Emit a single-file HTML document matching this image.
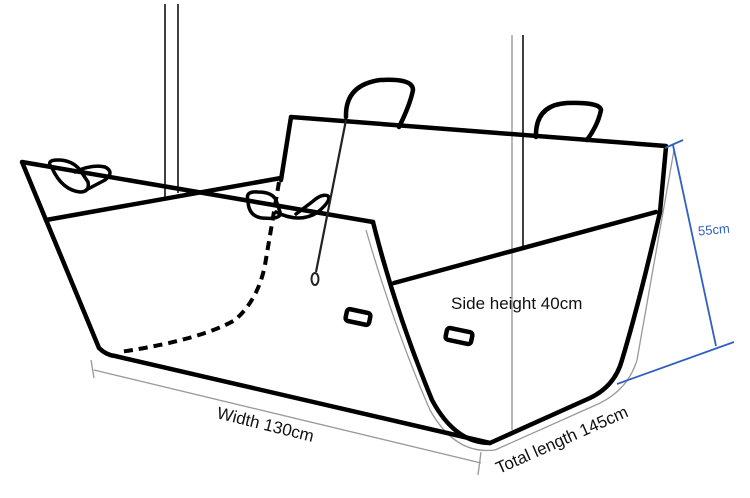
<!DOCTYPE html>
<html><head><meta charset="utf-8"><style>
html,body{margin:0;padding:0;background:#fff;}
svg{display:block;font-family:"Liberation Sans",sans-serif;}
</style></head><body>
<svg width="750" height="498" viewBox="0 0 750 498" xmlns="http://www.w3.org/2000/svg">
<g stroke="#111" stroke-width="1.6" fill="none">
<line x1="165" y1="4" x2="165" y2="197"/>
<line x1="178" y1="4" x2="178" y2="193"/>
<line x1="523" y1="35" x2="523" y2="247"/>
</g>
<line x1="512" y1="35" x2="512" y2="430" stroke="#888" stroke-width="1.2"/>
<!-- grey offset curve -->
<path d="M366,230 Q395,330 430,410 Q455,455 495,450 L598,404 Q628,390 637,360 L674,150" stroke="#999" stroke-width="1.3" fill="none"/>
<g stroke="#000" stroke-width="4.5" fill="none" stroke-linejoin="round" stroke-linecap="round">
<path d="M281,180 L291,117 L666,146"/>
<path d="M346,117 Q345,85 380,80 Q413,78 413,90 Q410,105 399,127"/>
<path d="M536,137 Q535,105 567,103 Q600,102 601,110 Q598,125 587,140"/>
<path d="M373,222 L22,162 L46,220 L99,348 Q106,355 115,356 L490,443"/>
<path d="M46,220 L281,178"/>
<path d="M373,222 Q395,310 432,400 Q455,443 490,443 L590,398 Q615,386 622,360 Q640,300 660,212 L666,147"/>
<path d="M394,283 L656,212"/>
<path d="M52,168 Q45,160 58,160 Q72,160 80,170 L88,182 Q90,192 80,192 Q62,190 52,168 Z" stroke-width="3.5"/>
<path d="M75,172 Q92,164 105,167 Q115,172 105,180 L86,190" stroke-width="3.5"/>
<path d="M248,200 Q245,191 258,192 Q272,192 276,200 L280,212 Q282,220 262,218 Q248,216 248,200 Z" stroke-width="3.5"/>
<path d="M276,212 Q300,224 318,212 Q332,200 328,196 Q322,193 312,202 L296,214" stroke-width="3.5"/>
<rect x="346" y="311" width="24" height="12" rx="3" transform="rotate(12 358 317)"/>
<rect x="446" y="330" width="26" height="12" rx="3" transform="rotate(12 459 336)"/>
</g>
<path d="M279,182 L265,265 Q258,300 235,320 Q200,340 120,352" stroke="#000" stroke-width="4" fill="none" stroke-dasharray="9,6"/>
<path d="M346,120 L316,272" stroke="#222" stroke-width="2.2" fill="none"/>
<ellipse cx="315" cy="279" rx="3.5" ry="6" stroke="#222" stroke-width="2" fill="none"/>
<g stroke="#3060c0" stroke-width="1.8" fill="none">
<line x1="673" y1="145" x2="716" y2="346"/>
<line x1="665" y1="148" x2="683" y2="140"/>
<line x1="617" y1="384" x2="734" y2="342"/>
</g>
<text x="698" y="234" fill="#3060c0" font-size="13" transform="rotate(-5 715 230)">55cm</text>
<g stroke="#999" stroke-width="1.3">
<line x1="94" y1="370" x2="481" y2="463"/>
<line x1="91" y1="360" x2="94" y2="378"/>
<line x1="481" y1="452" x2="478" y2="475"/>
</g>
<text x="216" y="418" font-size="17" fill="#111" transform="rotate(14 216 418)">Width 130cm</text>
<text x="451" y="309" font-size="17" fill="#111">Side height 40cm</text>
<text x="499" y="474" font-size="17" fill="#111" transform="rotate(-24 499 474)">Total length 145cm</text>
</svg>
</body></html>
